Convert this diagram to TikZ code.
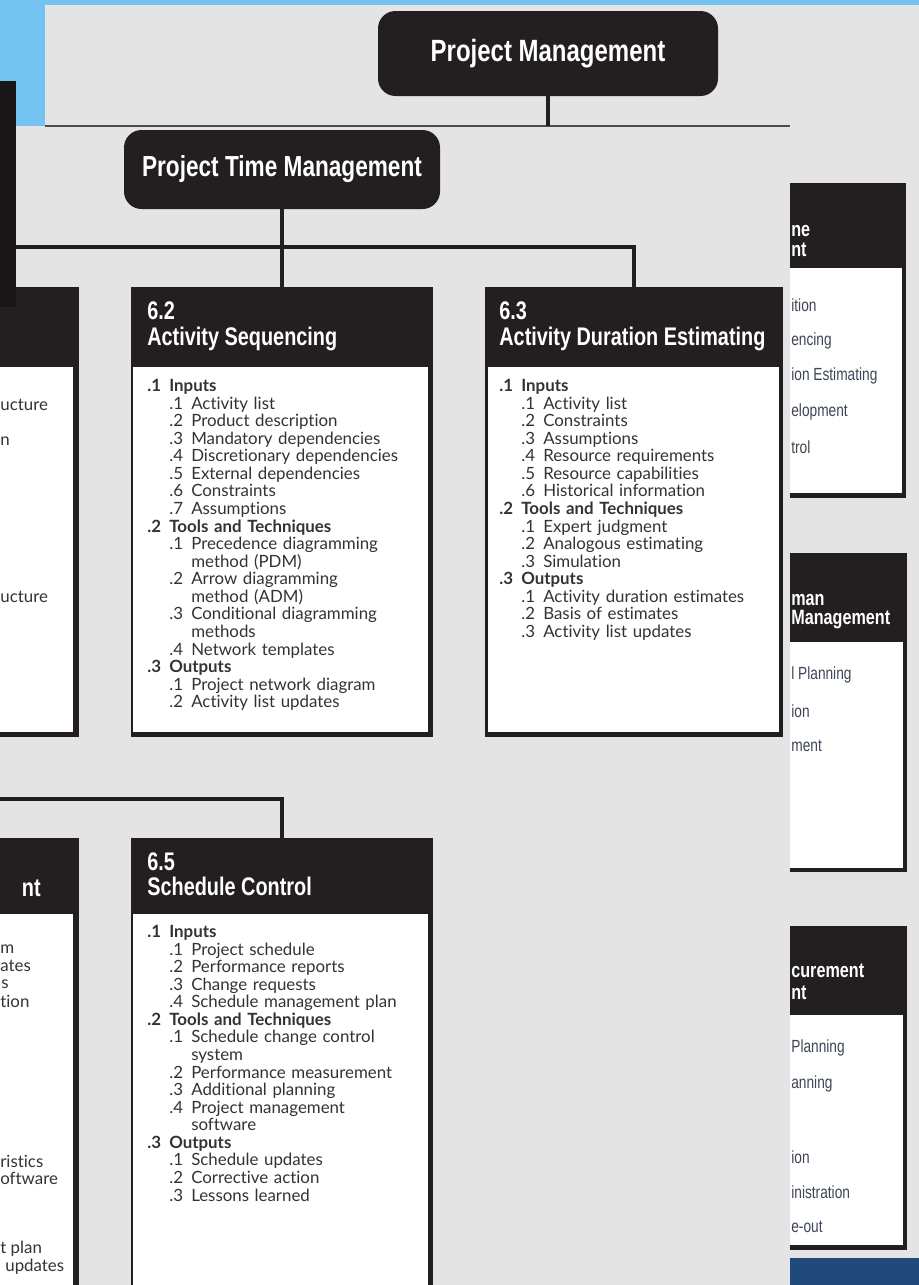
\documentclass[tikz,border=0pt]{standalone}
\usepackage{fontspec}
\setmainfont{Lato}[Ligatures=NoCommon]
\newfontfamily\headfont[FakeStretch=0.78]{Liberation Sans}
\usetikzlibrary{fit,positioning}

\definecolor{boxblack}{HTML}{231F20}
\definecolor{panelgray}{HTML}{E4E4E4}
\definecolor{skyblue}{HTML}{74C2EF}
\definecolor{textgray}{HTML}{333333}
\definecolor{sidegray}{HTML}{3D4656}
\definecolor{barblue}{HTML}{21497B}

\newlength\numw
\setlength\numw{12.5pt}
\newcommand\grp[2]{\noindent\makebox[\numw][l]{\textbf{#1}}\textbf{#2}\par}
\newcommand\itm[2]{\noindent\hspace*{\numw}\makebox[\numw][l]{#1}#2\par}
\newcommand\cnt[1]{\noindent\hspace*{2\numw}#1\par}

\begin{document}
\begin{tikzpicture}[x=0.02cm,y=-0.02cm,
  titlebox/.style={fill=boxblack,rounded corners=0.35cm,inner sep=0pt},
  titletext/.style={text=white,inner sep=0pt,font=\headfont\bfseries\fontsize{16.5}{18}\selectfont},
  tmbox/.style={fill=boxblack,inner sep=0pt},
  bodybox/.style={fill=white,inner sep=0pt},
  head/.style={text=white,inner sep=0pt,anchor=base west,font=\headfont\bfseries\fontsize{14.5}{16}\selectfont},
  body/.style={text=textgray,inner sep=0pt,anchor=north west,align=left,text width=5.6cm,font=\fontsize{9.6}{10}\selectfont},
  frag/.style={text=textgray,inner sep=0pt,anchor=west,font=\fontsize{9.6}{10}\selectfont},
  side/.style={text=sidegray,inner sep=0pt,anchor=west,font=\headfont\fontsize{10}{11}\selectfont},
  sidehead/.style={text=white,inner sep=0pt,anchor=west,font=\headfont\bfseries\fontsize{11.8}{13}\selectfont},
  conn/.style={draw=boxblack,line width=2.2pt}]

  \useasboundingbox (0,0) rectangle (919,1285);
  \clip (0,0) rectangle (919,1285);

  % backdrop
  \fill[skyblue] (0,0) rectangle (919,126);
  \fill[panelgray] (45,5) rectangle (919,126);
  \fill[panelgray] (0,126) rectangle (919,1285);
  \draw[gray!60!black,line width=0.8pt] (45,126) -- (790,126);

  % top of the tree
  \node[titlebox, fit={(378,11) (718,96)}] (pm) {};
  \node[titletext, font=\headfont\bfseries\fontsize{17.5}{19}\selectfont] (pmt) at (pm.center) {Project Management};
  \coordinate (pmfoot) at (548,126);
  \draw[conn] (pm.south) -- (pmfoot);

  \node[titlebox, fit={(124,130) (440,209)}] (ptm) {};
  \node[titletext] (ptmt) at (ptm.center) {Project Time Management};

  % process boxes
  \node[tmbox, fit={(-223,287) (79,737)}] (p61) {};
  \node[tmbox, fit={(131,287) (433,737)}] (p62) {};
  \node[tmbox, fit={(485,287) (783,737)}] (p63) {};
  \node[tmbox, fit={(-223,838) (79,1300)}] (p64) {};
  \node[tmbox, fit={(131,838) (433,1300)}] (p65) {};

  \node[bodybox, fit={(-221,367) (73,732)}] (b61) {};
  \node[bodybox, fit={(133,367) (428,732)}] (b62) {};
  \node[bodybox, fit={(488,367) (779,732)}] (b63) {};
  \node[bodybox, fit={(-221,914) (73,1300)}] (b64) {};
  \node[bodybox, fit={(133,914) (428,1300)}] (b65) {};

  \coordinate (j0) at (282,247);
  \coordinate (j1) at (282,799);
  \draw[conn] (ptm.south) -- (j0) -- (p62.north);
  \draw[conn] (p61.north) |- (j0) -| (p63.north);
  \draw[conn] (p64.north) |- (j1) -- (p65.north);

  \fill[boxblack!70!black] (0,81) rectangle (16,307);

  % 6.1 (cut off)
  \node[frag] (f61a) at (0,405) {ucture};
  \node[frag] (f61b) at (0,441) {n};
  \node[frag] (f61c) at (0,597) {ucture};

  % 6.2
  \node[head] (n62) at (147,319) {6.2};
  \node[head] (h62) at (147,345) {Activity Sequencing};
  \node[body] (t62) at (147,379) {
    \grp{.1}{Inputs}
    \itm{.1}{Activity list}
    \itm{.2}{Product description}
    \itm{.3}{Mandatory dependencies}
    \itm{.4}{Discretionary dependencies}
    \itm{.5}{External dependencies}
    \itm{.6}{Constraints}
    \itm{.7}{Assumptions}
    \grp{.2}{Tools and Techniques}
    \itm{.1}{Precedence diagramming}
    \cnt{method (PDM)}
    \itm{.2}{Arrow diagramming}
    \cnt{method (ADM)}
    \itm{.3}{Conditional diagramming}
    \cnt{methods}
    \itm{.4}{Network templates}
    \grp{.3}{Outputs}
    \itm{.1}{Project network diagram}
    \itm{.2}{Activity list updates}};

  % 6.3
  \node[head] (n63) at (499,319) {6.3};
  \node[head] (h63) at (499,345) {Activity Duration Estimating};
  \node[body] (t63) at (499,379) {
    \grp{.1}{Inputs}
    \itm{.1}{Activity list}
    \itm{.2}{Constraints}
    \itm{.3}{Assumptions}
    \itm{.4}{Resource requirements}
    \itm{.5}{Resource capabilities}
    \itm{.6}{Historical information}
    \grp{.2}{Tools and Techniques}
    \itm{.1}{Expert judgment}
    \itm{.2}{Analogous estimating}
    \itm{.3}{Simulation}
    \grp{.3}{Outputs}
    \itm{.1}{Activity duration estimates}
    \itm{.2}{Basis of estimates}
    \itm{.3}{Activity list updates}};

  % 6.4 (cut off)
  \node[head,anchor=east] (h64) at (41,888) {nt};
  \node[frag] (f64a) at (0,949) {m};
  \node[frag] (f64b) at (0,966) {ates};
  \node[frag] (f64c) at (1,984) {s};
  \node[frag] (f64d) at (0,1001) {tion};
  \node[frag] (f64e) at (0,1161) {ristics};
  \node[frag] (f64f) at (0,1178) {oftware};
  \node[frag] (f64g) at (0,1249) {t plan};
  \node[frag] (f64h) at (5,1267) {updates};

  % 6.5
  \node[head] (n65) at (147,870) {6.5};
  \node[head] (h65) at (147,895) {Schedule Control};
  \node[body] (t65) at (147,925) {
    \grp{.1}{Inputs}
    \itm{.1}{Project schedule}
    \itm{.2}{Performance reports}
    \itm{.3}{Change requests}
    \itm{.4}{Schedule management plan}
    \grp{.2}{Tools and Techniques}
    \itm{.1}{Schedule change control}
    \cnt{system}
    \itm{.2}{Performance measurement}
    \itm{.3}{Additional planning}
    \itm{.4}{Project management}
    \cnt{software}
    \grp{.3}{Outputs}
    \itm{.1}{Schedule updates}
    \itm{.2}{Corrective action}
    \itm{.3}{Lessons learned}};

  % panels on the right (cut off)
  \node[tmbox, fit={(790,183) (906,498)}] (r1) {};
  \node[bodybox, fit={(790,268) (902,493)}] (w1) {};
  \node[sidehead] (r1a) at (791,231) {ne};
  \node[sidehead] (r1b) at (791,250) {nt};
  \node[side] (r1c) at (791,305) {ition};
  \node[side] (r1d) at (791,341) {encing};
  \node[side] (r1e) at (791,376) {ion Estimating};
  \node[side] (r1f) at (791,412) {elopment};
  \node[side] (r1g) at (791,447) {trol};

  \node[tmbox, fit={(790,553) (907,872)}] (r2) {};
  \node[bodybox, fit={(790,642) (903,868)}] (w2) {};
  \node[sidehead] (r2a) at (791,600) {man};
  \node[sidehead] (r2b) at (791,620) {Management};
  \node[side] (r2c) at (791,675) {l Planning};
  \node[side] (r2d) at (791,711) {ion};
  \node[side] (r2e) at (791,746) {ment};

  \node[tmbox, fit={(790,926) (907,1250)}] (r3) {};
  \node[bodybox, fit={(790,1015) (903,1245)}] (w3) {};
  \node[sidehead] (r3a) at (791,971) {curement};
  \node[sidehead] (r3b) at (791,993) {nt};
  \node[side] (r3c) at (791,1048) {Planning};
  \node[side] (r3d) at (791,1084) {anning};
  \node[side] (r3e) at (791,1157) {ion};
  \node[side] (r3f) at (791,1192) {inistration};
  \node[side] (r3g) at (791,1227) {e-out};

  \fill[barblue] (790,1258) rectangle (919,1285);

\end{tikzpicture}
\end{document}
